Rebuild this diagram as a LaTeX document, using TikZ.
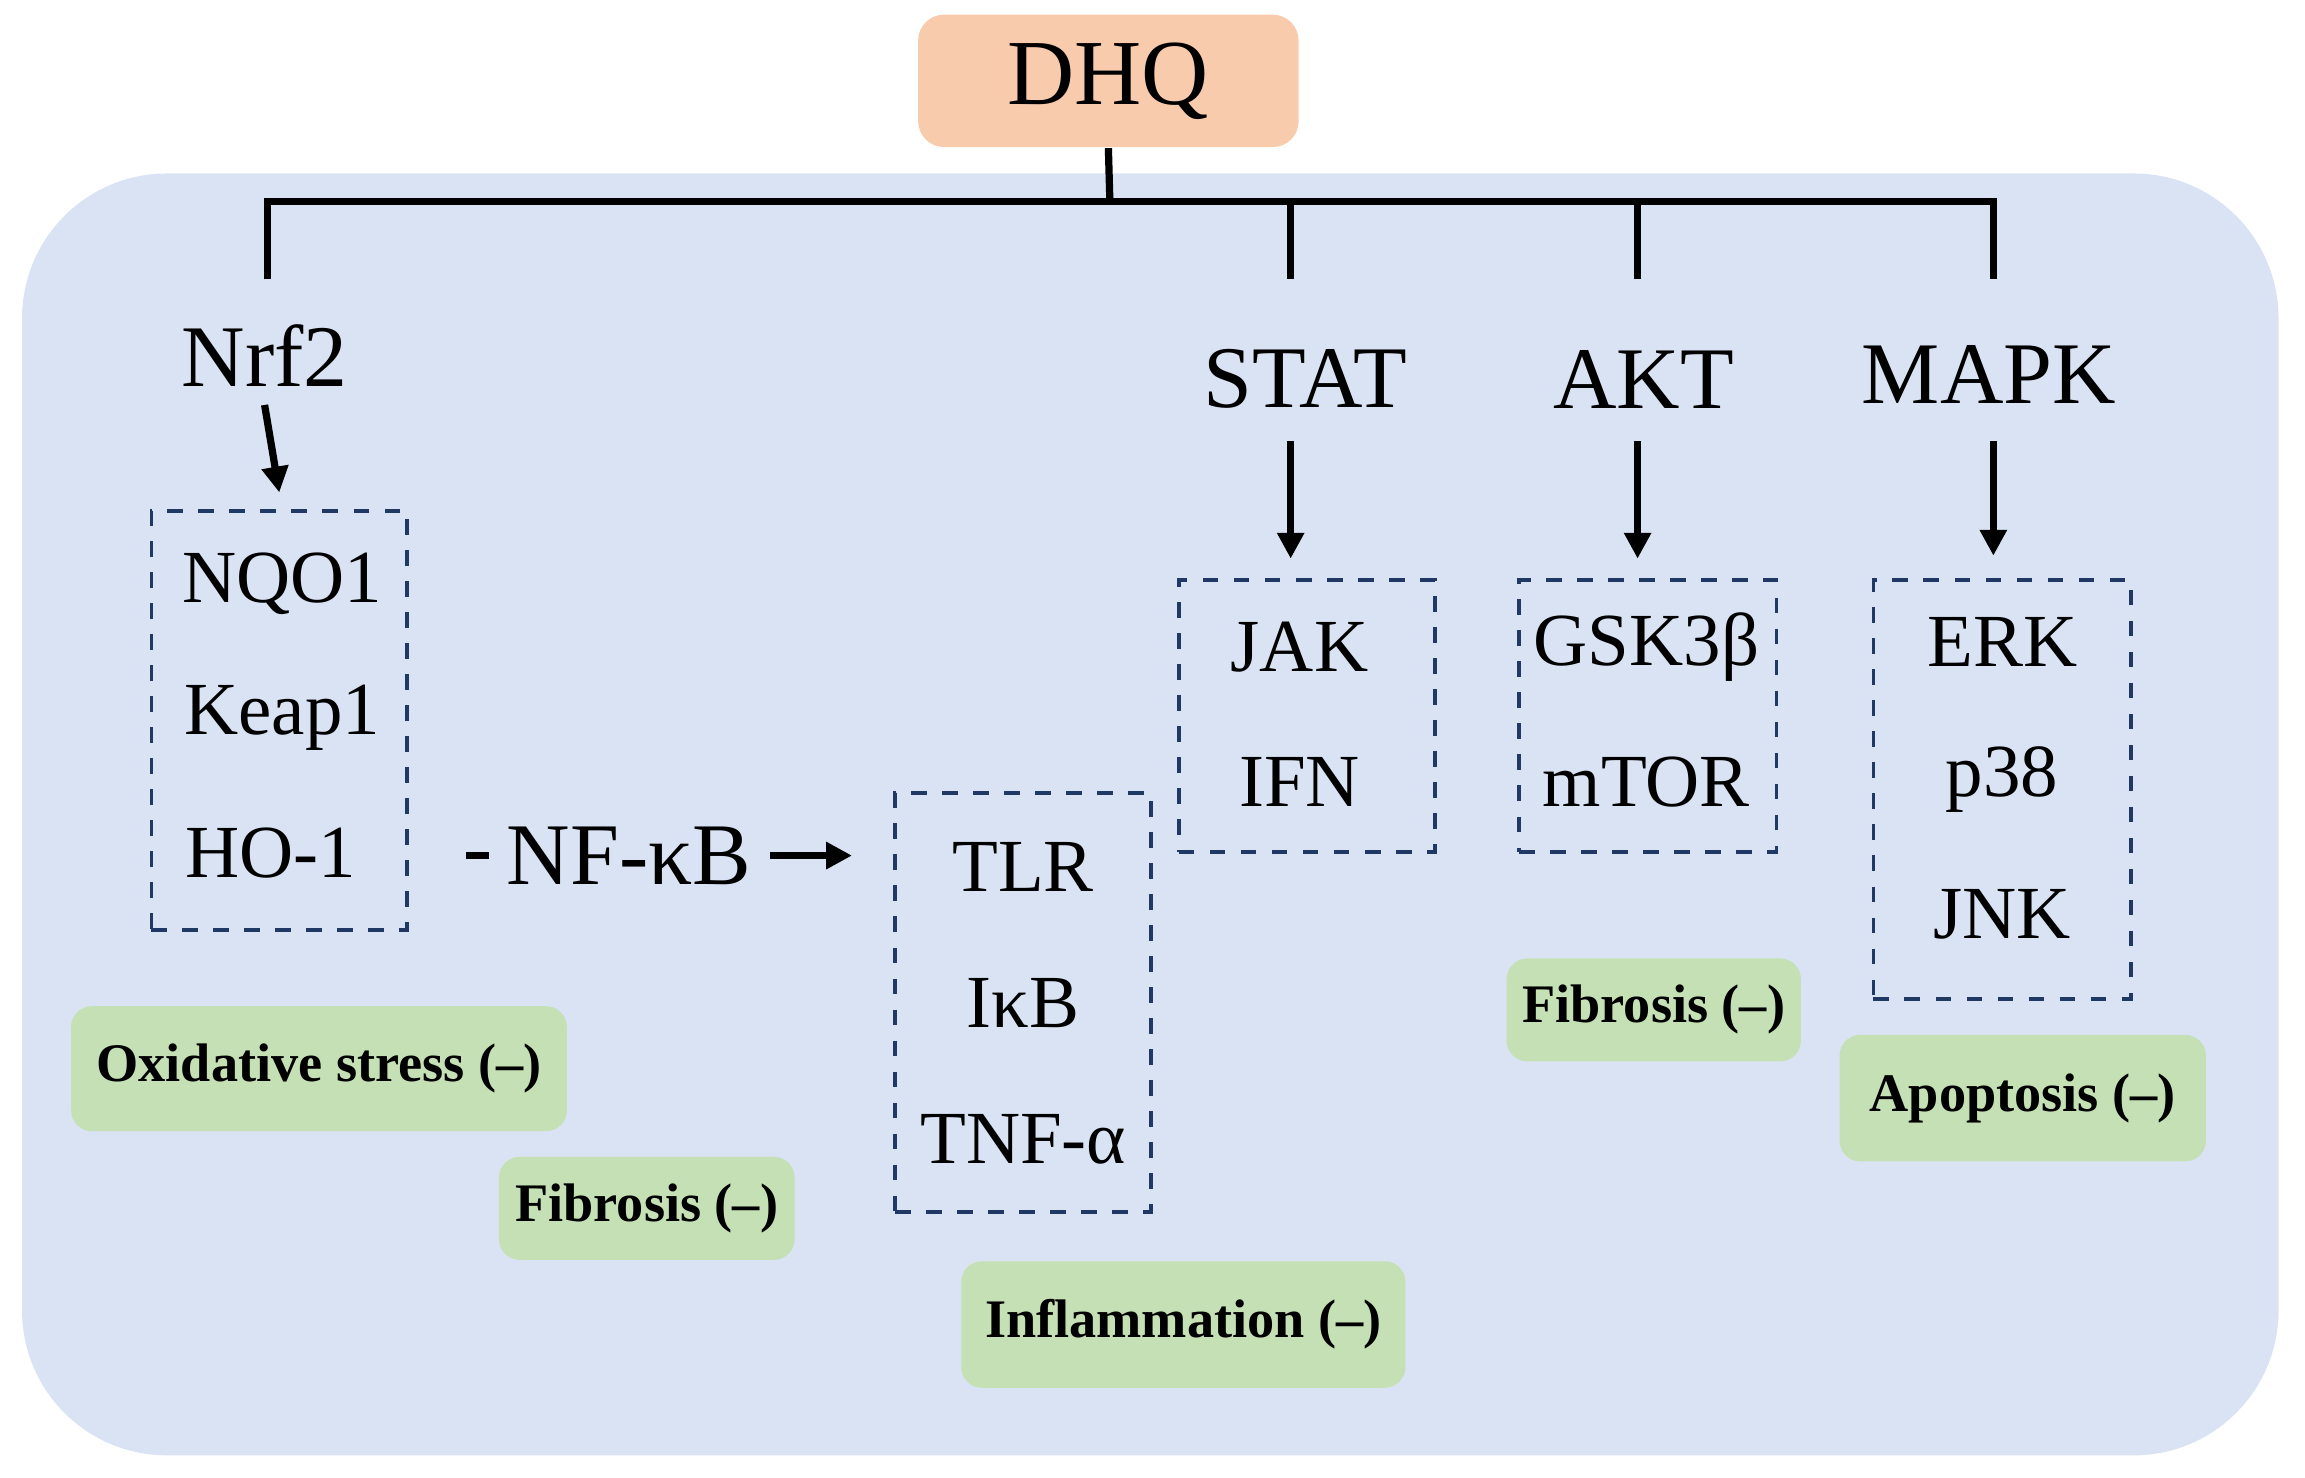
\documentclass[tikz,border=0pt]{standalone}
\usepackage{fontspec}
\setmainfont{Liberation Serif}
\usetikzlibrary{arrows.meta}
\definecolor{bgblue}{RGB}{218,227,243}
\definecolor{peach}{RGB}{248,203,173}
\definecolor{leaf}{RGB}{197,224,180}
\definecolor{navy}{RGB}{31,56,100}
\tikzset{
    tree/.style={line width=1.4pt},
    arr/.style={line width=1.4pt, -{Triangle[length=5pt,width=5pt]}},
    big/.style={font=\fontsize{17}{20}\selectfont},
    item/.style={font=\fontsize{14.5}{17}\selectfont},
    dbox/.style={draw=navy, dashed, line width=0.7pt, inner sep=0pt},
    effect/.style={fill=leaf, rounded corners=4pt, inner sep=0pt, font=\bfseries\fontsize{10.5}{12}\selectfont}
}
\begin{document}
\begin{tikzpicture}[x=0.01cm, y=-0.01cm]
    \useasboundingbox (0,0) rectangle (1568,1005);
    % Background
    \fill[bgblue, rounded corners=28pt] (15,118) rectangle (1550,990);

    % Top node
    \node[fill=peach, rounded corners=5pt, minimum width=184\pgflinewidth, inner sep=0pt, text width=1.84cm, minimum height=0.9cm, align=center, font=\fontsize{18}{20}\selectfont] (dhq) at (754,55) {DHQ};

    % Pathway names
    \node[big] (nrf2) at (180,242) {Nrf2};
    \node[big] (stat) at (888,258) {STAT};
    \node[big] (akt) at (1118,258) {AKT};
    \node[big] (mapk) at (1353,255) {MAPK};

    % Tree
    \coordinate (top) at (755,137);
    \draw[tree] (dhq.south) -- (top);
    \draw[tree] (182,190) -- (182,137) -- (1356,137) -- (1356,190);
    \foreach \x in {878,1114} {
        \draw[tree] (\x,137) -- (\x,190);
    }

    % Dashed boxes
    \node[dbox, minimum width=1.74cm, minimum height=2.85cm] (nrfbox) at (190,490) {};
    \node[dbox, minimum width=1.74cm, minimum height=1.85cm] (jakbox) at (889,487) {};
    \node[dbox, minimum width=1.75cm, minimum height=1.85cm] (gskbox) at (1121,487) {};
    \node[dbox, minimum width=1.75cm, minimum height=2.85cm] (erkbox) at (1362,537) {};
    \node[dbox, minimum width=1.74cm, minimum height=2.85cm] (tlrbox) at (696,682) {};

    % Box contents
    \node[item] (nqo1) at (192,397) {NQO1};
    \node[item] (keap1) at (192,488) {Keap1};
    \node[item] (ho1) at (184,580) {HO-1};
    \node[item] (jak) at (884,440) {JAK};
    \node[item] (ifn) at (884,532) {IFN};
    \node[item] (gsk) at (1120,440) {GSK3β};
    \node[item] (mtor) at (1120,532) {mTOR};
    \node[item] (erk) at (1362,437) {ERK};
    \node[item] (p38) at (1362,530) {p38};
    \node[item] (jnk) at (1362,622) {JNK};
    \node[item] (tlr) at (696,590) {TLR};
    \node[item] (ikb) at (696,682) {IκB};
    \node[item] (tnf) at (696,775) {TNF-α};

    % Arrows
    \draw[arr] (nrf2.south) -- (nrfbox.north |- 0,335);
    \draw[arr] (878,300) -- (878,380);
    \draw[arr] (1114,300) -- (1114,380);
    \draw[arr] (1356,300) -- (1356,378);

    % NF-kB link
    \node[big] (nfkb) at (428,582) {NF-κB};
    \draw[tree, shorten <=11pt] (nrfbox.east |- nfkb) -- (nfkb.west);
    \draw[arr, shorten >=8pt] (nfkb.east) -- (tlrbox.west |- nfkb);

    % Effects
    \node[effect, minimum width=3.37cm, minimum height=0.85cm] (oxi) at (217,727) {Oxidative stress (–)};
    \node[effect, minimum width=2.01cm, minimum height=0.70cm] (fib1) at (440,822) {Fibrosis (–)};
    \node[effect, minimum width=3.02cm, minimum height=0.86cm] (infl) at (805,901) {Inflammation (–)};
    \node[effect, minimum width=2.00cm, minimum height=0.70cm] (fib2) at (1125,687) {Fibrosis (–)};
    \node[effect, minimum width=2.49cm, minimum height=0.86cm] (apo) at (1376,747) {Apoptosis (–)};
\end{tikzpicture}
\end{document}
